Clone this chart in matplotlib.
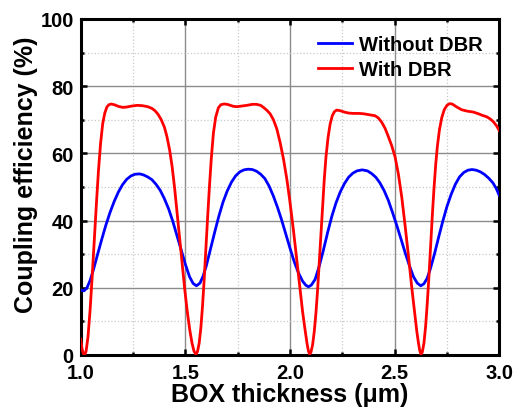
import matplotlib
matplotlib.use("Agg")
import matplotlib.pyplot as plt
from matplotlib.ticker import MultipleLocator, FormatStrFormatter

plt.rcParams['font.family'] = ['Liberation Sans', 'DejaVu Sans']
plt.rcParams['font.weight'] = 'bold'

# BOX thickness (um) and coupling efficiency (%) without the DBR
box_without = [1.000, 1.016, 1.030, 1.045, 1.060, 1.080, 1.100, 1.120, 1.140, 1.160,
               1.180, 1.200, 1.220, 1.240, 1.260, 1.282, 1.300, 1.320, 1.340, 1.360,
               1.380, 1.400, 1.420, 1.440, 1.460, 1.480, 1.500, 1.520, 1.537, 1.553,
               1.570, 1.585, 1.600, 1.620, 1.640, 1.660, 1.680, 1.700, 1.720, 1.740,
               1.760, 1.780, 1.800, 1.820, 1.840, 1.860, 1.880, 1.900, 1.920, 1.940,
               1.960, 1.980, 2.000, 2.020, 2.040, 2.060, 2.075, 2.088, 2.102, 2.120,
               2.140, 2.160, 2.180, 2.200, 2.220, 2.240, 2.260, 2.280, 2.300, 2.320,
               2.345, 2.370, 2.390, 2.410, 2.430, 2.450, 2.470, 2.490, 2.510, 2.530,
               2.550, 2.570, 2.590, 2.608, 2.625, 2.640, 2.655, 2.670, 2.690, 2.710,
               2.730, 2.750, 2.770, 2.790, 2.810, 2.830, 2.850, 2.870, 2.890, 2.910,
               2.930, 2.950, 2.970, 2.985, 3.000]
eff_without = [19.3, 19.1, 20.0, 22.2, 25.2, 29.8, 34.3, 38.6, 42.4, 45.7,
               48.5, 50.7, 52.3, 53.3, 53.8, 53.9, 53.6, 53.0, 52.2, 50.8,
               49.0, 46.5, 43.5, 39.8, 35.5, 31.3, 27.0, 23.3, 21.3, 20.6,
               21.4, 23.5, 26.5, 31.5, 36.5, 41.3, 45.5, 48.8, 51.4, 53.3,
               54.5, 55.1, 55.3, 55.2, 54.7, 53.8, 52.5, 50.3, 47.4, 44.0,
               40.2, 36.0, 31.8, 27.8, 24.5, 22.0, 20.8, 20.3, 20.8, 22.5,
               26.5, 31.3, 36.5, 41.3, 45.3, 48.5, 51.0, 52.9, 54.1, 54.8,
               55.1, 54.8, 54.0, 52.9, 51.2, 48.9, 46.0, 42.4, 38.6, 34.6,
               30.5, 26.7, 23.3, 21.4, 20.6, 21.2, 22.8, 25.5, 30.0, 35.0,
               39.8, 44.2, 47.8, 50.8, 53.0, 54.3, 55.0, 55.2, 55.0, 54.5,
               53.7, 52.6, 51.2, 49.6, 47.5]

# BOX thickness (um) and coupling efficiency (%) with the DBR
box_with = [1.000, 1.006, 1.012, 1.019, 1.026, 1.035, 1.045, 1.055, 1.065, 1.075,
            1.085, 1.095, 1.105, 1.115, 1.125, 1.135, 1.146, 1.160, 1.180, 1.200,
            1.220, 1.245, 1.270, 1.295, 1.320, 1.340, 1.355, 1.370, 1.385, 1.400,
            1.412, 1.425, 1.437, 1.449, 1.461, 1.473, 1.485, 1.497, 1.509, 1.521,
            1.532, 1.541, 1.550, 1.558, 1.566, 1.574, 1.582, 1.590, 1.598, 1.606,
            1.615, 1.624, 1.634, 1.645, 1.658, 1.670, 1.685, 1.700, 1.715, 1.730,
            1.746, 1.770, 1.794, 1.820, 1.840, 1.860, 1.875, 1.890, 1.905, 1.921,
            1.937, 1.953, 1.969, 1.985, 2.000, 2.016, 2.032, 2.048, 2.060, 2.072,
            2.082, 2.088, 2.094, 2.100, 2.108, 2.116, 2.124, 2.132, 2.140, 2.148,
            2.156, 2.164, 2.172, 2.182, 2.192, 2.202, 2.212, 2.223, 2.240, 2.260,
            2.280, 2.303, 2.330, 2.351, 2.380, 2.407, 2.423, 2.438, 2.454, 2.470,
            2.486, 2.502, 2.518, 2.534, 2.550, 2.566, 2.582, 2.597, 2.606, 2.614,
            2.620, 2.626, 2.632, 2.640, 2.648, 2.656, 2.664, 2.672, 2.680, 2.688,
            2.696, 2.704, 2.714, 2.725, 2.737, 2.750, 2.762, 2.775, 2.797, 2.820,
            2.845, 2.876, 2.900, 2.920, 2.940, 2.958, 2.972, 2.986, 3.000]
eff_with = [4.7, 2.0, 0.5, 0.0, 1.2, 5.5, 13.5, 23.5, 34.5, 45.0,
            55.0, 63.0, 68.8, 72.0, 73.8, 74.5, 74.7, 74.5, 74.0, 73.7,
            73.8, 74.1, 74.3, 74.2, 73.9, 73.4, 72.7, 71.6, 70.0, 67.8,
            65.0, 61.0, 56.0, 49.5, 42.0, 34.5, 27.0, 19.6, 13.0, 7.5,
            3.5, 1.2, 0.2, 1.0, 3.5, 8.0, 14.5, 22.5, 31.5, 40.5,
            50.0, 58.5, 66.0, 70.8, 73.6, 74.5, 74.7, 74.6, 74.3, 74.0,
            73.9, 74.1, 74.3, 74.6, 74.6, 74.3, 73.6, 72.8, 71.8, 70.0,
            67.3, 63.2, 58.3, 52.3, 45.5, 37.4, 28.5, 19.6, 13.0, 7.5,
            3.2, 1.2, 0.2, 0.8, 3.0, 7.0, 12.5, 19.5, 27.5, 36.0,
            44.5, 52.5, 59.0, 64.8, 68.8, 71.2, 72.4, 72.9, 72.7, 72.3,
            72.0, 71.9, 71.9, 71.8, 71.5, 71.2, 70.5, 69.3, 67.5, 65.0,
            62.3, 59.0, 53.8, 47.0, 38.5, 29.5, 20.0, 11.7, 7.0, 3.5,
            1.3, 0.2, 0.8, 3.5, 8.5, 15.5, 23.5, 32.5, 41.5, 49.5,
            56.5, 62.0, 67.0, 70.6, 73.0, 74.3, 74.8, 74.7, 73.8, 73.0,
            72.6, 72.3, 71.8, 71.3, 70.9, 70.2, 69.4, 68.3, 66.8]

fig = plt.figure(figsize=(5.16, 4.14), dpi=100)
ax = fig.add_axes([0.1564, 0.1401, 0.8112, 0.8116])

ax.plot(box_without, eff_without, color='#0000ff', lw=2.0, label='Without DBR', zorder=3)
ax.plot(box_with, eff_with, color='#ff0000', lw=2.0, label='With DBR', zorder=3)

ax.set_xlim(1.0, 3.0)
ax.set_ylim(0, 100)
ax.xaxis.set_major_locator(MultipleLocator(0.5))
ax.xaxis.set_minor_locator(MultipleLocator(0.25))
ax.yaxis.set_major_locator(MultipleLocator(20))
ax.yaxis.set_minor_locator(MultipleLocator(10))
ax.xaxis.set_major_formatter(FormatStrFormatter('%.1f'))

ax.grid(which='major', color='#8c8c8c', lw=1.0, ls='-', zorder=0)
ax.grid(which='minor', color='#c8c8c8', lw=0.9, ls=':', zorder=0)
ax.set_axisbelow(True)

for s in ax.spines.values():
    s.set_linewidth(2.2)
ax.tick_params(which='both', direction='in', top=True, right=True, width=1.8)
ax.tick_params(which='major', length=4, labelsize=14.5)
ax.tick_params(axis='x', which='major', pad=6)
ax.tick_params(axis='y', which='major', pad=5)
ax.tick_params(which='minor', length=2.5)
for lab in ax.get_xticklabels() + ax.get_yticklabels():
    lab.set_fontweight('bold')

ax.set_xlabel('BOX thickness (μm)', fontsize=18, fontweight='bold', labelpad=0)
ax.set_ylabel('Coupling efficiency (%)', fontsize=18, fontweight='bold')
ax.yaxis.set_label_coords(-0.102, 0.54)

leg = ax.legend(loc='upper right', frameon=False, fontsize=14.5, handlelength=1.7,
                handletextpad=0.35, labelspacing=0.3, borderaxespad=0.4)
for t in leg.get_texts():
    t.set_fontweight('bold')

fig.savefig('out.png', dpi=100)
